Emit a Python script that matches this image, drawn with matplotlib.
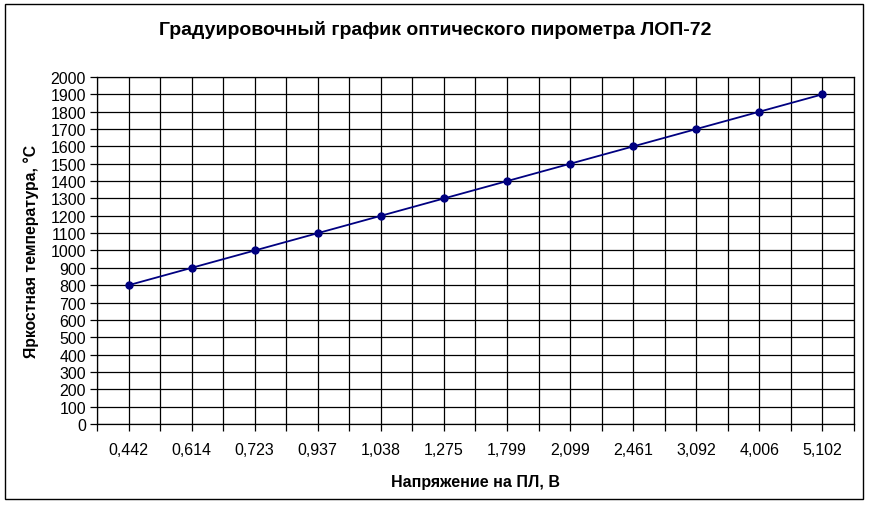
import matplotlib

matplotlib.use("Agg")
import matplotlib.pyplot as plt
from matplotlib.patches import Rectangle
from matplotlib.ticker import MultipleLocator

plt.rcParams["font.family"] = ["Liberation Sans", "DejaVu Sans"]

voltages = ["0,442", "0,614", "0,723", "0,937", "1,038", "1,275",
            "1,799", "2,099", "2,461", "3,092", "4,006", "5,102"]
temperatures = [800, 900, 1000, 1100, 1200, 1300, 1400, 1500, 1600, 1700, 1800, 1900]

fig = plt.figure(figsize=(8.69, 5.06), dpi=100)
W, H = 869, 506
ax = fig.add_axes([97 / W, 1 - 425 / H, (854 - 97) / W, (425 - 78) / H])

x = list(range(len(voltages)))
ax.plot(x, temperatures, color="#000080", linewidth=1.3, marker="o",
        markersize=5, markerfacecolor="#000080", markeredgecolor="#000080", zorder=3)

ax.set_xlim(-0.5, len(voltages) - 0.5)
ax.set_ylim(0, 2000)
ax.yaxis.set_major_locator(MultipleLocator(100))
ax.set_xticks(x)
ax.set_xticklabels(voltages)
ax.xaxis.set_minor_locator(MultipleLocator(0.5))
ax.grid(True, which="both", color="black", linewidth=0.9)
ax.set_axisbelow(True)
ax.tick_params(axis="both", which="both", direction="out", length=5, width=0.9,
               labelsize=11.5, color="black")
ax.tick_params(axis="x", pad=8)
ax.tick_params(axis="y", pad=3)
for spine in ax.spines.values():
    spine.set_linewidth(0.9)

ax.set_xlabel("Напряжение на ПЛ, В", fontsize=11.5, fontweight="bold", labelpad=12)
ax.set_ylabel("Яркостная температура, °C", fontsize=11.3, fontweight="bold", labelpad=8)
fig.text(435 / W, 1 - 30 / H, "Градуировочный график оптического пирометра ЛОП-72",
         ha="center", va="center", fontsize=14, fontweight="bold")

fig.patches.append(Rectangle((5 / W, 1 - 500 / H), (863 - 5) / W, (500 - 5) / H,
                             transform=fig.transFigure, fill=False,
                             edgecolor="black", linewidth=1))

fig.savefig("out.png", dpi=100)
